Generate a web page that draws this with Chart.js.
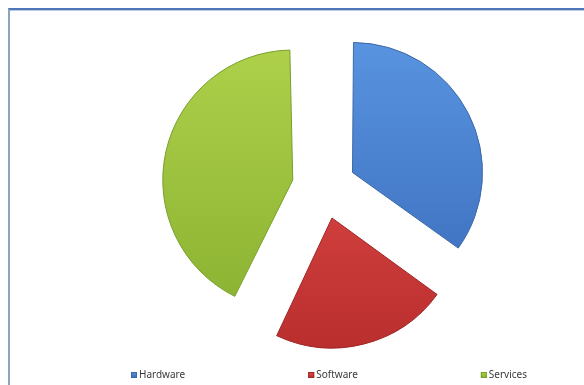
<!DOCTYPE html>
<html><head><meta charset="utf-8">
<script src="https://cdn.jsdelivr.net/npm/chart.js@4/dist/chart.umd.min.js"></script>
<style>
html,body{margin:0;padding:0;background:#fff;}
#wrap{position:relative;width:584px;height:385px;overflow:hidden;background:#fff;}
#frame{position:absolute;left:8px;top:8px;width:600px;height:400px;border-top:2px solid #4f76b8;border-left:2px solid #8da2bb;box-shadow: inset 0 1px 0 #bccbe0;}
canvas{position:absolute;left:0;top:0;}
</style></head>
<body><div id="wrap"><div id="frame"></div><canvas id="c" width="584" height="385"></canvas></div>
<script>
const categories = ['Hardware', 'Software', 'Services'];
const values = [35, 22, 43];
const topColors = ['#5a96e2', '#e5504c', '#b0d24c'];
const bottomColors = ['#3768b8', '#b42a2a', '#86ae2e'];
const borderColors = ['#3b68a6', '#9e2626', '#76a02a'];
const EXPLODE = 128; // Chart.js moves each slice by offset / 4

function sliceGradient(context) {
  const chart = context.chart;
  const i = context.dataIndex;
  const area = chart.chartArea;
  if (!area) return topColors[i];
  const g = chart.ctx.createLinearGradient(0, area.top + 40, 0, area.bottom - 20);
  g.addColorStop(0, topColors[i]);
  g.addColorStop(1, bottomColors[i]);
  return g;
}

// Chart.js enlarges an exploded slice's radius by offset/4*(1-sin(angle)); undo that so all slices share one radius
const equalRadius = {
  id: 'equalRadius',
  afterDatasetsUpdate(chart) {
    const meta = chart.getDatasetMeta(0);
    meta.data.forEach(arc => {
      const circ = arc.circumference;
      const fix = 1 - Math.sin(Math.min(Math.PI, circ || 0));
      arc.outerRadius = arc.outerRadius - (EXPLODE / 4) * fix;
    });
  }
};

const bottomLegend = {
  id: 'bottomLegend',
  afterDraw(chart) {
    const ctx = chart.ctx;
    ctx.save();
    ctx.font = '10px "Noto Sans", sans-serif';
    ctx.textBaseline = 'middle';
    ctx.textAlign = 'left';
    const box = 6, textGap = 2;
    const widths = categories.map(t => box + textGap + ctx.measureText(t).width);
    const span = 396;
    const gap = (span - widths.reduce((a, b) => a + b, 0)) / (categories.length - 1);
    let x = (chart.chartArea.left + chart.chartArea.right) / 2 + 5 - span / 2;
    const y = chart.height - 10;
    categories.forEach((t, i) => {
      const g = ctx.createLinearGradient(0, y - 3, 0, y + 3);
      g.addColorStop(0, topColors[i]);
      g.addColorStop(1, bottomColors[i]);
      ctx.fillStyle = g;
      ctx.fillRect(x, y - 3, box, box);
      ctx.strokeStyle = borderColors[i];
      ctx.lineWidth = 1;
      ctx.strokeRect(x + 0.5, y - 2.5, box - 1, box - 1);
      ctx.fillStyle = '#3a3a3a';
      ctx.fillText(t, x + box + textGap, y);
      x += widths[i] + gap;
    });
    ctx.restore();
  }
};

new Chart(document.getElementById('c'), {
  type: 'pie',
  data: {
    labels: categories,
    datasets: [{
      data: values,
      backgroundColor: sliceGradient,
      borderColor: borderColors,
      borderWidth: 1,
      offset: EXPLODE
    }]
  },
  options: {
    responsive: false,
    animation: false,
    radius: 130,
    layout: { padding: { left: 64, right: 0, top: 0, bottom: 11 } },
    plugins: {
      legend: { display: false },
      tooltip: { enabled: false }
    }
  },
  plugins: [equalRadius, bottomLegend]
});
</script>
</body></html>
